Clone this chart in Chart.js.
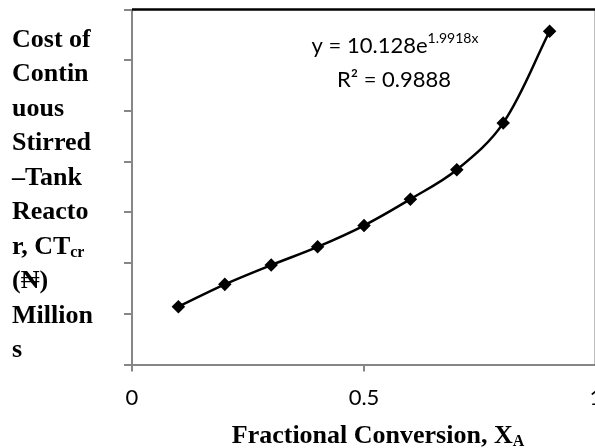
<!DOCTYPE html>
<html>
<head>
<meta charset="utf-8">
<script src="https://cdn.jsdelivr.net/npm/chart.js@4"></script>
<style>
  html, body { margin: 0; padding: 0; background: #fff; overflow: hidden; width: 595px; height: 448px; }
  #chart { display: block; }
</style>
</head>
<body>
<canvas id="chart" width="620" height="448"></canvas>
<script>
// fractional conversion vs reactor cost (millions)
const conversion = [0.1, 0.2, 0.3, 0.4, 0.5, 0.6, 0.7, 0.8, 0.9];
const cost = [11.4, 15.8, 19.6, 23.2, 27.4, 32.6, 38.4, 47.6, 65.7];
const xTicks = [0, 0.5, 1];
const yTitleLines = ['Cost of', 'Contin', 'uous', 'Stirred', '\u2013Tank', 'Reacto', 'r, CT', '(\u20A6)', 'Million', 's'];
const eqMain = 'y = 10.128e';
const eqExp = '1.9918x';
const r2Text = 'R\u00B2 = 0.9888';

const serif = '"Liberation Serif", "Times New Roman", serif';
const sans = 'Lato, "Open Sans", sans-serif';

const textPlugin = {
  id: 'texts',
  afterDraw(chart) {
    const ctx = chart.ctx;
    const a = chart.chartArea;
    ctx.save();
    // top and right frame line
    ctx.strokeStyle = '#000';
    ctx.lineWidth = 2.5;
    ctx.beginPath();
    ctx.moveTo(a.left, a.top);
    ctx.lineTo(a.right, a.top);
    ctx.lineTo(a.right, a.bottom);
    ctx.stroke();

    // y title, wrapped like the original
    ctx.fillStyle = '#000';
    ctx.textBaseline = 'alphabetic';
    ctx.textAlign = 'left';
    yTitleLines.forEach((line, i) => {
      const y = 46.7 + i * 34.5;
      ctx.font = 'bold 26px ' + serif;
      ctx.fillText(line, 12, y);
      if (line === 'r, CT') {
        const w = ctx.measureText(line).width;
        ctx.font = 'bold 16px ' + serif;
        ctx.fillText('cr', 12 + w, y + 3);
      }
    });

    // x title with subscript
    ctx.font = 'bold 26px ' + serif;
    const main = 'Fractional Conversion, X';
    const mw = ctx.measureText(main).width;
    ctx.font = 'bold 16px ' + serif;
    const sw = ctx.measureText('A').width;
    const xStart = 378 - (mw + sw) / 2;
    ctx.font = 'bold 26px ' + serif;
    ctx.fillText(main, xStart, 443);
    ctx.font = 'bold 16px ' + serif;
    ctx.fillText('A', xStart + mw, 446);

    // trendline equation
    ctx.font = '22px ' + sans;
    const ew = ctx.measureText(eqMain).width;
    ctx.font = '14px ' + sans;
    const xw = ctx.measureText(eqExp).width;
    const ex = 395 - (ew + xw) / 2;
    ctx.font = '22px ' + sans;
    ctx.fillText(eqMain, ex, 53);
    ctx.font = '14px ' + sans;
    ctx.fillText(eqExp, ex + ew, 43);
    ctx.font = '22px ' + sans;
    ctx.textAlign = 'center';
    ctx.fillText(r2Text, 394, 87);
    ctx.restore();
  }
};

const ctx = document.getElementById('chart').getContext('2d');
new Chart(ctx, {
  type: 'line',
  data: {
    datasets: [{
      data: conversion.map((x, i) => ({ x: x, y: cost[i] })),
      borderColor: '#000',
      backgroundColor: '#000',
      borderWidth: 2.5,
      tension: 0.35,
      pointStyle: 'rectRot',
      pointRadius: 5,
      pointBackgroundColor: '#000',
      pointBorderColor: '#000',
      fill: false,
    }],
  },
  options: {
    responsive: false,
    animation: false,
    layout: { padding: { top: 9.5, right: 24, left: 0, bottom: 0 } },
    plugins: {
      legend: { display: false },
      tooltip: { enabled: false },
    },
    scales: {
      x: {
        type: 'linear',
        min: 0,
        max: 1,
        afterBuildTicks: scale => { scale.ticks = xTicks.map(v => ({ value: v })); },
        afterFit: scale => { scale.height = 83.5; },
        border: { color: '#868686', width: 2 },
        grid: { drawOnChartArea: false, drawTicks: true, tickLength: 7, color: '#868686', lineWidth: 2 },
        ticks: {
          color: '#000',
          font: { family: sans, size: 22 },
          padding: 13,
          maxRotation: 0,
          callback: v => String(v),
        },
      },
      y: {
        min: 0,
        max: 70,
        afterFit: scale => { scale.width = 132; },
        border: { color: '#868686', width: 2 },
        grid: { drawOnChartArea: false, drawTicks: true, tickLength: 8, color: '#868686', lineWidth: 2 },
        ticks: { stepSize: 10, display: false },
      },
    },
  },
  plugins: [textPlugin],
});
</script>
</body>
</html>
